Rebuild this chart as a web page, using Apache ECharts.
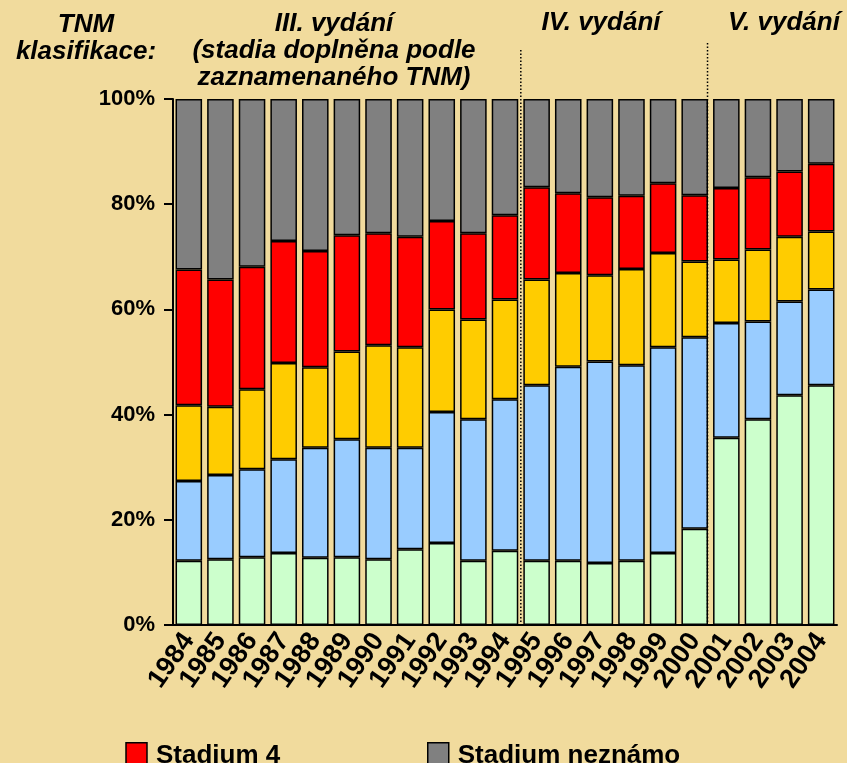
<!DOCTYPE html>
<html>
<head>
<meta charset="utf-8">
<script src="https://cdn.jsdelivr.net/npm/echarts@6/dist/echarts.min.js"></script>
<style>
  html, body { margin: 0; padding: 0; background: #f1db9d; }
  #chart { width: 847px; height: 763px; }
</style>
</head>
<body>
<div id="chart"></div>
<script>
const years = ["1984", "1985", "1986", "1987", "1988", "1989", "1990", "1991", "1992", "1993", "1994",
  "1995", "1996", "1997", "1998", "1999", "2000", "2001", "2002", "2003", "2004"];

// podíly stadií v %
const stadium1 = [12.2, 12.5, 12.9, 13.7, 12.8, 12.9, 12.5, 14.4, 15.6, 12.2, 14.1, 12.2, 12.2, 11.8, 12.2, 13.7, 18.3, 35.6, 39.1, 43.7, 45.6];
const stadium2 = [15.2, 16.0, 16.7, 17.8, 20.9, 22.4, 21.2, 19.3, 24.9, 26.9, 28.8, 33.4, 36.9, 38.3, 37.2, 39.1, 36.4, 21.8, 18.6, 17.8, 18.2];
const stadium3 = [14.4, 13.0, 15.2, 18.3, 15.3, 16.7, 19.5, 19.1, 19.5, 19.0, 19.0, 20.1, 17.8, 16.4, 18.3, 17.9, 14.4, 12.1, 13.7, 12.3, 11.0];
const stadium4 = [25.8, 24.2, 23.3, 23.2, 22.1, 22.1, 21.3, 21.0, 16.8, 16.4, 16.0, 17.5, 15.2, 14.8, 13.9, 13.3, 12.6, 13.6, 13.7, 12.4, 12.9];
const neznamo = [32.4, 34.3, 31.9, 27.0, 28.9, 25.9, 25.5, 26.2, 23.2, 25.5, 22.1, 16.8, 17.9, 18.7, 18.4, 16.0, 18.3, 16.9, 14.9, 13.8, 12.3];

const seriesNames = ["Stadium 1", "Stadium 2", "Stadium 3", "Stadium 4", "Stadium neznámo"];
const seriesData = [stadium1, stadium2, stadium3, stadium4, neznamo];
const colors = ["#ccffcc", "#99ccff", "#ffcc00", "#ff0000", "#808080"];

const font = '"Liberation Sans", Arial, sans-serif';

const chart = echarts.init(document.getElementById("chart"));

const headText = (text, x, y) => ({
  type: "text",
  x: x,
  y: y,
  style: {
    text: text,
    align: "center",
    verticalAlign: "top",
    fontFamily: font,
    fontSize: 26,
    fontWeight: "bold",
    fontStyle: "italic",
    lineHeight: 27,
    fill: "#000"
  }
});

const option = {
  backgroundColor: "#f1db9d",
  animation: false,
  color: colors,
  grid: { left: 173, right: 10, top: 99, bottom: 138 },
  legend: {
    data: seriesNames,
    left: -785,
    top: 737,
    itemWidth: 21,
    itemHeight: 26,
    itemGap: 5,
    icon: "rect",
    itemStyle: { borderColor: "#000", borderWidth: 1.5 },
    textStyle: {
      fontFamily: font, fontSize: 26, fontWeight: "bold", color: "#000",
      width: 266, lineHeight: 24, padding: [0, 0, 0, 4]
    }
  },
  xAxis: {
    type: "category",
    data: years,
    axisLine: { lineStyle: { color: "#000", width: 2 } },
    axisTick: { length: 7, lineStyle: { color: "#000", width: 2 } },
    axisLabel: {
      rotate: 55,
      margin: 11,
      interval: 0,
      fontFamily: font,
      fontSize: 27,
      fontWeight: "bold",
      color: "#000"
    }
  },
  yAxis: {
    type: "value",
    min: 0,
    max: 100,
    interval: 20,
    splitLine: { show: false },
    axisLine: { show: true, lineStyle: { color: "#000", width: 2 } },
    axisTick: { show: true, length: 9, lineStyle: { color: "#000", width: 2 } },
    axisLabel: {
      formatter: "{value}%",
      margin: 18,
      fontFamily: font,
      fontSize: 22,
      fontWeight: "bold",
      color: "#000"
    }
  },
  series: seriesNames.map((name, i) => ({
    name: name,
    type: "bar",
    stack: "all",
    data: seriesData[i],
    barCategoryGap: "16%",
    itemStyle: { borderColor: "#000", borderWidth: 1.5 }
  })),
  graphic: [
    headText("TNM\nklasifikace:", 86, 11),
    headText("III. vydání\n(stadia doplněna podle\nzaznamenaného TNM)", 334, 10),
    headText("IV. vydání", 601, 9),
    headText("V. vydání", 784, 9)
  ]
};

chart.setOption(option);

// tečkované dělicí čáry mezi vydáními (na hranici kategorií)
function boundaryX(a, b) {
  return (chart.convertToPixel({ xAxisIndex: 0 }, a) + chart.convertToPixel({ xAxisIndex: 0 }, b)) / 2;
}
const y0 = chart.convertToPixel({ yAxisIndex: 0 }, 0);
const dividers = [
  { x: boundaryX("1994", "1995"), top: 50 },
  { x: boundaryX("2000", "2001") - 3, top: 43 }
];
chart.setOption({
  graphic: option.graphic.concat(dividers.map(d => ({
    type: "line",
    z: 100,
    shape: { x1: d.x, y1: d.top, x2: d.x, y2: y0 },
    style: { stroke: "#000", lineWidth: 1.5, lineDash: [1.5, 2] }
  })))
});
</script>
</body>
</html>
